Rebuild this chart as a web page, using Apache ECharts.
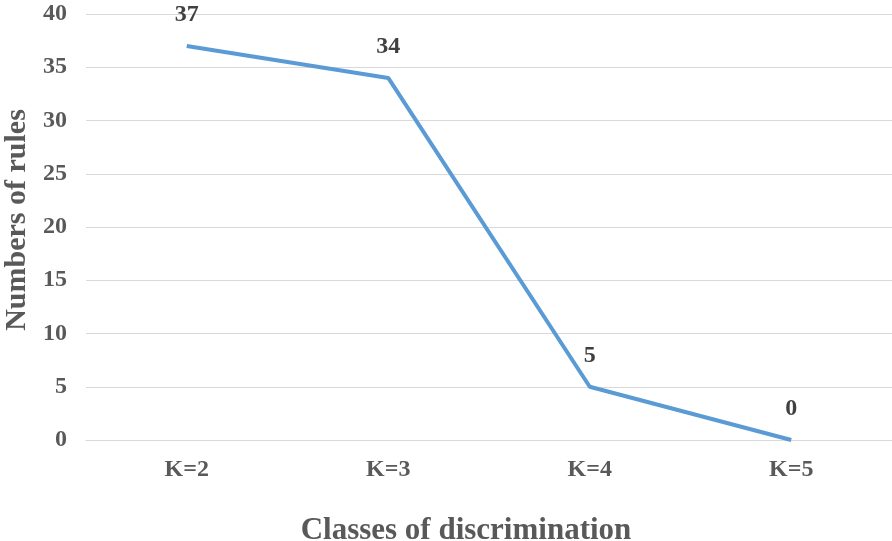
<!DOCTYPE html>
<html>
<head>
<meta charset="utf-8">
<script src="https://cdn.jsdelivr.net/npm/echarts@6/dist/echarts.min.js"></script>
<style>
  html, body { margin: 0; padding: 0; background: #fff; }
  #chart { width: 892px; height: 541px; }
</style>
</head>
<body>
<div id="chart"></div>
<script>
const categories = ['K=2', 'K=3', 'K=4', 'K=5']
const ruleCounts = [37, 34, 5, 0]
const yTicks = { min: 0, max: 40, interval: 5 }

const font = 'Liberation Serif, Times New Roman, serif'
const chart = echarts.init(document.getElementById('chart'))

chart.setOption({
  animation: false,
  grid: {
    top: 14,
    left: 86,
    right: 0,
    bottom: 101,
    containLabel: false,
    outerBoundsMode: 'none'
  },
  xAxis: {
    type: 'category',
    data: categories,
    boundaryGap: true,
    name: 'Classes of discrimination',
    nameLocation: 'middle',
    nameGap: 75,
    nameTextStyle: {
      fontFamily: font,
      fontSize: 31,
      fontWeight: 'bold',
      color: '#595959',
      padding: [0, 46, 0, 0] // title sits a bit left of the plot centre
    },
    axisLine: { lineStyle: { color: '#d9d9d9', width: 1 } },
    axisTick: { show: false },
    axisLabel: {
      margin: 18,
      fontFamily: font,
      fontSize: 24,
      fontWeight: 'bold',
      color: '#595959'
    }
  },
  yAxis: {
    type: 'value',
    min: yTicks.min,
    max: yTicks.max,
    interval: yTicks.interval,
    name: 'Numbers of rules',
    nameLocation: 'middle',
    nameGap: 53,
    nameTextStyle: {
      fontFamily: font,
      fontSize: 30,
      fontWeight: 'bold',
      color: '#595959',
      padding: [0, 0, 0, 14]
    },
    axisLine: { show: false },
    axisTick: { show: false },
    splitLine: { lineStyle: { color: '#d9d9d9', width: 1 } },
    axisLabel: {
      margin: 19,
      fontFamily: font,
      fontSize: 24,
      fontWeight: 'bold',
      color: '#595959'
    }
  },
  series: [{
    type: 'line',
    data: ruleCounts,
    symbol: 'circle',
    symbolSize: 0,
    lineStyle: { color: '#5b9bd5', width: 4 },
    itemStyle: { color: '#5b9bd5' },
    label: {
      show: true,
      position: 'top',
      distance: 19,
      fontFamily: font,
      fontSize: 24,
      fontWeight: 'bold',
      color: '#404040'
    }
  }]
})
</script>
</body>
</html>
